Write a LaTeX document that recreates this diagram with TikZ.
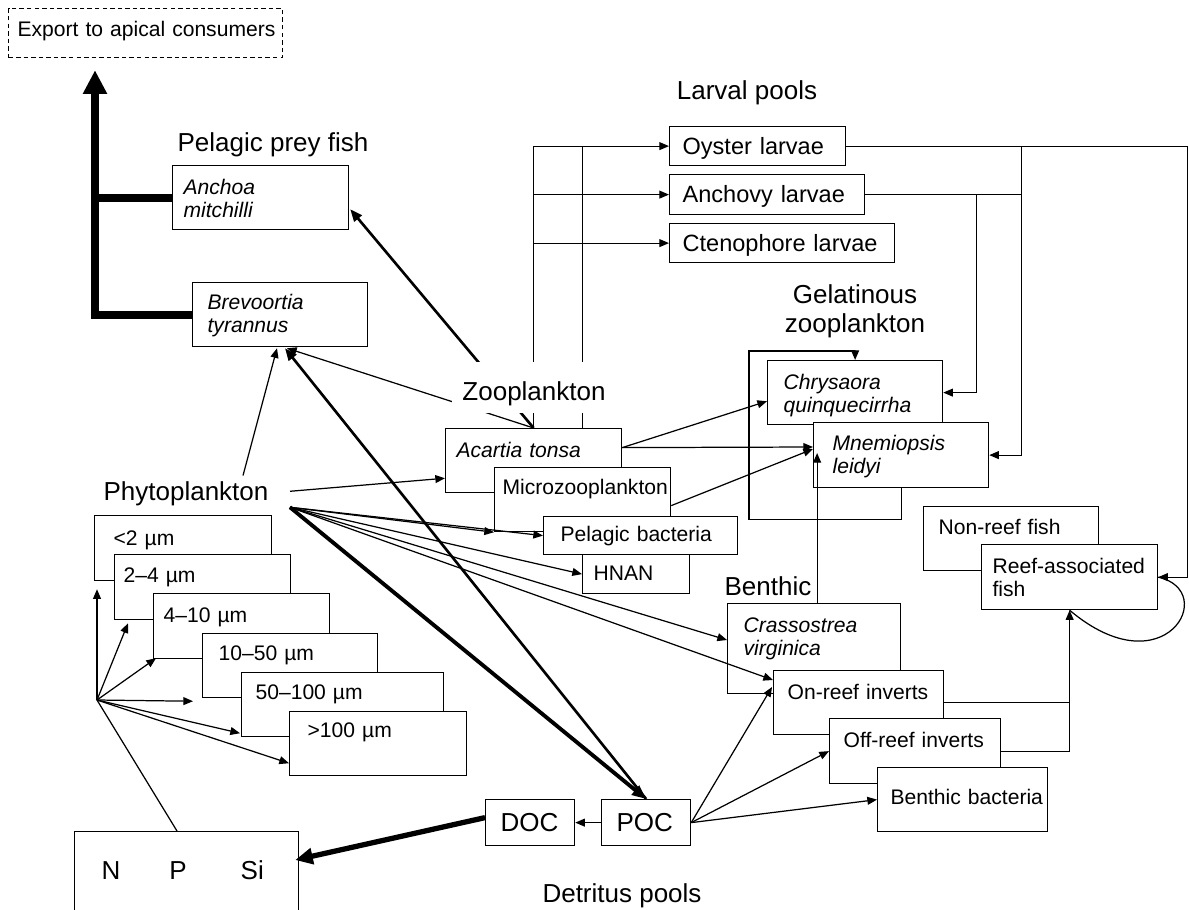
\documentclass[tikz,border=0pt]{standalone}
\usepackage{fontspec}
\setmainfont{Liberation Sans}
\usetikzlibrary{calc}
\usetikzlibrary{arrows.meta}

\newdimen\pxu
\pxu=0.02cm
\newcommand\taxonfont{\fontsize{12}{13}\selectfont}
\newcommand\larvafont{\fontsize{13.4}{15}\selectfont}
\newcommand\groupfont{\fontsize{14.8}{16.5}\selectfont}

\begin{document}
\begin{tikzpicture}[x=0.02cm, y=-0.02cm, line width=0.7pt,
    >={Triangle[length=5.5pt,width=4.5pt]},
    sp/.style n args={4}{draw, fill=white, anchor=north west, align=left,
      inner sep=0pt, font=\taxonfont, text width=#1*0.02cm,
      text height=#4*0.02cm, text depth=(#2-#4)*0.02cm,
      execute at begin node={\leftskip=#3\pxu}},
    ital/.style={font=\taxonfont\itshape},
    grp/.style={font=\groupfont, inner sep=0pt, anchor=base},
    feed/.style={line width=1.5pt, -{Triangle[length=7pt,width=5.5pt]}},
    heavy/.style={line width=2.2pt, -{Triangle[length=8pt,width=6.5pt]}},
    remin/.style={line width=3pt, -{Triangle[length=10pt,width=9pt]}},
    apex/.style={line width=4.5pt}]
    \useasboundingbox (0,0) rectangle (1189,909);
    \clip (0,0) rectangle (1189,909);

    \node[sp={274}{49}{9}{28}, dash pattern=on 2.5pt off 1.8pt] (export) at (8,8) {Export to apical consumers};

    \node[grp] (pelagic) at (273,152) {Pelagic prey fish};
    \node[sp={176}{64}{11}{29}, ital] (anchoa) at (172,165) {Anchoa\\mitchilli};
    \node[sp={175}{64}{15}{27}, ital] (brevo) at (192,282) {Brevoortia\\tyrannus};

    \node[grp] (larval) at (747,99) {Larval pools};
    \node[sp={176}{39}{13}{28}, font=\larvafont] (oyster) at (669,126) {Oyster larvae};
    \node[sp={195}{40}{13}{28}, font=\larvafont] (anchovy) at (669,174) {Anchovy larvae};
    \node[sp={225}{39}{13}{28}, font=\larvafont] (cteno) at (669,223) {Ctenophore larvae};

    \node[sp={176}{64}{11}{29}, ital] (acartia) at (445,428) {Acartia tonsa};
    \node[sp={176}{64}{8}{27}] (micro) at (494,467) {Microzooplankton};
    \node[sp={194}{38}{17}{25}] (pbact) at (543,516) {Pelagic bacteria};
    \node[sp={107}{39}{11}{26}] (hnan) at (582,554) {HNAN};

    \node[grp, align=center, anchor=center] (gelat) at (855,311) {Gelatinous\\zooplankton};
    \node[sp={175}{64}{16}{29}, ital] (chrys) at (767,360) {Chrysaora\\quinquecirrha};
    \node[sp={175}{65}{19}{28}, ital] (mnemi) at (813,422) {Mnemiopsis\\leidyi};

    \node[sp={175}{64}{15}{28}] (nonreef) at (923,506) {Non-reef fish};
    \node[sp={176}{65}{11}{29}] (reef) at (981,544) {Reef-associated\\fish};

    \node[grp] (benthic) at (768,595) {Benthic};
    \node[sp={173}{90}{16}{29}, ital] (crass) at (727,603) {Crassostrea\\virginica};
    \node[sp={170}{64}{14}{29}] (onreef) at (773,670) {On-reef inverts};
    \node[sp={171}{65}{14}{29}] (offreef) at (829,718) {Off-reef inverts};
    \node[sp={170}{64}{13}{37}] (bbact) at (877,767) {Benthic bacteria};

    \node[grp] (phyto) at (186,500) {Phytoplankton};
    \node[sp={177}{65}{19}{30}] (s1) at (94,515) {<2 µm};
    \node[sp={176}{65}{9}{28}] (s2) at (114,554) {2–4 µm};
    \node[sp={176}{65}{10}{29}] (s3) at (153,593) {4–10 µm};
    \node[sp={175}{64}{16}{27}] (s4) at (202,633) {10–50 µm};
    \node[sp={202}{64}{14}{27}] (s5) at (241,672) {50–100 µm};
    \node[sp={177}{64}{18}{26}] (s6) at (289,711) {>100 µm};

    \node[sp={89}{46}{15}{32}, font=\groupfont] (doc) at (485,799) {DOC};
    \node[sp={89}{46}{15}{32}, font=\groupfont] (poc) at (601,799) {POC};
    \node[grp] (detritus) at (622,902) {Detritus pools};
    \node[sp={224}{110}{27}{48}, font=\groupfont] (npsi) at (74,831) {N\hspace{0.98cm}P\hspace{1.08cm}Si};

    \coordinate (fan) at ($(phyto.east)+(21,14)$);
    \coordinate (nut) at (97,700);
    \coordinate (exp) at ($(export.south west)+(87,12)$);

    \draw[apex, -{Triangle[length=13.5pt,width=13pt]}] (brevo.west) -| (exp);
    \draw[apex] (anchoa.west) -- (anchoa.west -| exp);

    \draw[->] ($(phyto.east)+(21,-2)$) -- ($(acartia.south west)+(0,-15)$);
    \draw[->] ($(phyto.north)+(57,-5)$) -- ($(brevo.south west)+(85,1)$);
    \draw[->] (fan) -- (micro.south west);
    \draw[->] (fan) -- (pbact.west);
    \draw[->] (fan) -- (hnan.west);
    \draw[->] (fan) -- ($(crass.north west)+(0,37)$);
    \draw[->] (fan) -- ($(onreef.north west)+(0,10)$);
    \draw[heavy] (fan) -- (poc.north);
    \draw[feed] (poc.north) -- ($(brevo.south west)+(93,1)$);

    \draw[->] (acartia.north) -- ($(brevo.south west)+(95,1)$);
    \draw[feed] (acartia.north) -- ($(anchoa.south east)+(1,-21)$);
    \draw[->] (acartia.north) |- (oyster.west);
    \draw[->] (acartia.north |- anchovy.west) -- (anchovy.west);
    \draw[->] (acartia.north |- cteno.west) -- (cteno.west);
    \draw (micro.north |- acartia.north) -- (micro.north |- oyster.west);

    \draw[->] ($(acartia.east)+(0,-13)$) -- ($(chrys.south west)+(0,-24)$);
    \draw[->] ($(acartia.east)+(0,-13)$) -- ($(mnemi.north west)+(0,25)$);
    \draw[->] ($(micro.east)+(0,6)$) -- ($(mnemi.north west)+(0,27)$);
    \draw[->] ($(crass.north)+(3,0)$) -- ++(0,-150);
    \draw[->] (mnemi.south) -- ++(0,31) -| ($(chrys.north west)+(-18,-9)$) -| (chrys.north);

    \draw[->] (anchovy.east) -- ++(111,0) |- (chrys.east);
    \draw (anchovy.east) -- ++(156,0);
    \draw[->] (oyster.east) -- ++(175,0) |- (mnemi.east);
    \draw[->] (oyster.east) -- ++(341,0) |- (reef.east);
    \draw (reef.east) .. controls +(62,14) and +(95,80) .. (reef.south);

    \draw (onreef.east) -- (onreef.east -| reef.south);
    \draw[->] (offreef.east) -| (reef.south);
    \draw[->] (poc.east) -- ($(onreef.north west)+(-1,17)$);
    \draw[->] (poc.east) -- (offreef.west);
    \draw[->] (poc.east) -- (bbact.west);
    \draw[->] (poc.west) -- (doc.east);
    \draw[remin] ($(doc.west)+(0,-5)$) -- ($(npsi.north east)+(-4,29)$);

    \draw (nut) -- ($(npsi.north west)+(103,0)$);
    \draw[->] (nut) -- ($(s1.south west)+(3,8)$);
    \draw[->] (nut) -- ($(s2.south west)+(14,3)$);
    \draw[->] (nut) -- ($(s3.south west)+(3,-1)$);
    \draw[->] (nut) -- ($(s4.south west)+(-9,3)$);
    \draw[->] (nut) -- ($(s5.south west)+(-1,-4)$);
    \draw[->] (nut) -- ($(s6.south west)+(0,-13)$);

    \node[grp, fill=white, inner xsep=10*0.02cm, text height=38*0.02cm, text depth=13*0.02cm] (zoo) at (534,400) {Zooplankton};
\end{tikzpicture}
\end{document}
